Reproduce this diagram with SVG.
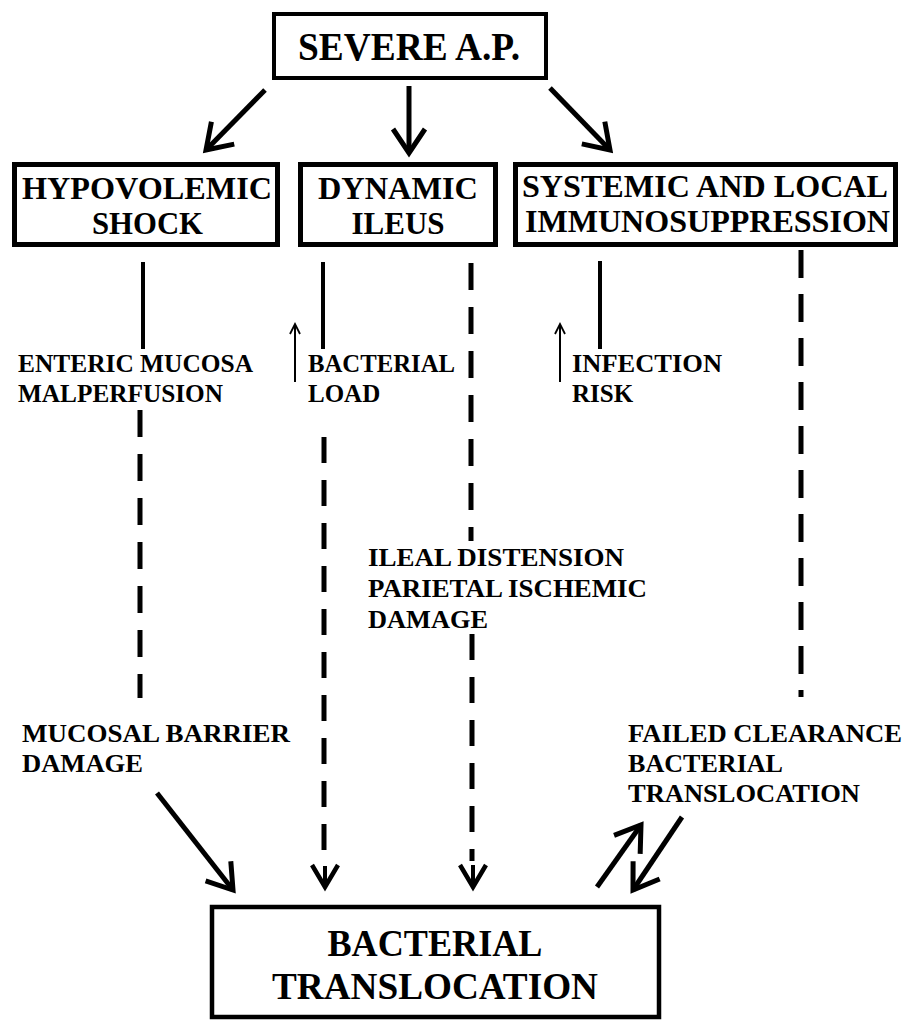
<svg xmlns="http://www.w3.org/2000/svg" width="907" height="1021" viewBox="0 0 907 1021">
<style>
text{font-family:"Liberation Serif","Times New Roman",serif;font-weight:bold;fill:#000}
.big{font-size:40px}
.bot{font-size:38px}
.box{font-size:31px}
.lbl{font-size:25px}
.node{fill:#fff;stroke:#000}
.thick{stroke:#000;stroke-width:5;fill:none}
.solid{stroke:#000;stroke-width:4;fill:none}
.dash{stroke:#000;stroke-width:5;fill:none}
.thin{stroke:#000;stroke-width:2;fill:none}
</style>
<defs>
<marker id="hd" markerUnits="userSpaceOnUse" orient="auto" overflow="visible" refX="0" refY="0" markerWidth="1" markerHeight="1">
<path d="M-24,-16 L0,0 L-24,16" fill="none" stroke="#000" stroke-width="5" stroke-linejoin="miter"/>
</marker>
<marker id="hs" markerUnits="userSpaceOnUse" orient="auto" overflow="visible" refX="0" refY="0" markerWidth="1" markerHeight="1">
<path d="M-22,-13 L0,0 L-22,13" fill="none" stroke="#000" stroke-width="4.5" stroke-linejoin="miter"/>
</marker>
<marker id="ht" markerUnits="userSpaceOnUse" orient="auto" overflow="visible" refX="0" refY="0" markerWidth="1" markerHeight="1">
<path d="M-10,-5 L0,0 L-10,5" fill="none" stroke="#000" stroke-width="1.8"/>
</marker>
</defs>
<rect width="907" height="1021" fill="#fff"/>

<g id="connectors">
<line class="thick" x1="265" y1="90" x2="206" y2="150" marker-end="url(#hd)"/>
<line class="thick" x1="409" y1="86" x2="409" y2="153" marker-end="url(#hd)"/>
<line class="thick" x1="550" y1="88" x2="610" y2="150" marker-end="url(#hd)"/>

<line class="solid" x1="143" y1="262" x2="143" y2="349"/>
<line class="dash" x1="140" y1="410" x2="140" y2="698" stroke-dasharray="27 17"/>

<line class="solid" x1="323" y1="262" x2="323" y2="349"/>
<line class="dash" x1="324" y1="437" x2="324" y2="850" stroke-dasharray="26 17"/>
<line class="solid" x1="325" y1="866" x2="325" y2="887" marker-end="url(#hs)"/>

<line class="dash" x1="471" y1="263" x2="471" y2="541" stroke-dasharray="27 17"/>
<line class="dash" x1="472" y1="634" x2="472" y2="861" stroke-dasharray="26 17"/>
<line class="solid" x1="473" y1="865" x2="473" y2="887" marker-end="url(#hs)"/>

<line class="solid" x1="600" y1="261" x2="600" y2="349"/>
<line class="dash" x1="801" y1="250" x2="801" y2="697" stroke-dasharray="28 16"/>

<line class="thin" x1="295" y1="382" x2="295" y2="324" marker-end="url(#ht)"/>
<line class="thin" x1="560" y1="382" x2="560" y2="324" marker-end="url(#ht)"/>

<line class="thick" x1="157" y1="793" x2="233" y2="890" marker-end="url(#hd)"/>
<line class="thick" x1="597" y1="887" x2="641" y2="825" marker-end="url(#hd)"/>
<line class="thick" x1="682" y1="817" x2="633" y2="890" marker-end="url(#hd)"/>
</g>

<g id="severe">
<rect class="node" x="274" y="14" width="272" height="64" stroke-width="4"/>
<text class="big" x="298" y="60" textLength="222" lengthAdjust="spacingAndGlyphs">SEVERE A.P.</text>
</g>

<g id="hypovolemic">
<rect class="node" x="14.5" y="164.5" width="263" height="80" stroke-width="5"/>
<text class="box" x="22" y="199" textLength="250" lengthAdjust="spacingAndGlyphs">HYPOVOLEMIC</text>
<text class="box" x="92" y="234" textLength="111" lengthAdjust="spacingAndGlyphs">SHOCK</text>
</g>

<g id="ileus">
<rect class="node" x="300.5" y="164.5" width="195" height="80" stroke-width="5"/>
<text class="box" x="398" y="199" text-anchor="middle" textLength="160" lengthAdjust="spacingAndGlyphs">DYNAMIC</text>
<text class="box" x="398" y="234" text-anchor="middle">ILEUS</text>
</g>

<g id="immuno">
<rect class="node" x="515.5" y="164.5" width="380" height="80" stroke-width="5"/>
<text class="box" x="522" y="197" textLength="366" lengthAdjust="spacingAndGlyphs">SYSTEMIC AND LOCAL</text>
<text class="box" x="525" y="232" textLength="365" lengthAdjust="spacingAndGlyphs">IMMUNOSUPPRESSION</text>
</g>

<g id="enteric">
<text class="lbl" x="18" y="372" textLength="235" lengthAdjust="spacingAndGlyphs">ENTERIC MUCOSA</text>
<text class="lbl" x="18" y="402" textLength="205" lengthAdjust="spacingAndGlyphs">MALPERFUSION</text>
</g>

<g id="load">
<text class="lbl" x="308" y="372" textLength="147" lengthAdjust="spacingAndGlyphs">BACTERIAL</text>
<text class="lbl" x="308" y="402">LOAD</text>
</g>

<g id="infection">
<text class="lbl" x="572" y="372" textLength="150" lengthAdjust="spacingAndGlyphs">INFECTION</text>
<text class="lbl" x="572" y="402">RISK</text>
</g>

<g id="ileal">
<text class="lbl" x="368" y="566" textLength="256" lengthAdjust="spacingAndGlyphs">ILEAL DISTENSION</text>
<text class="lbl" x="368" y="597" textLength="279" lengthAdjust="spacingAndGlyphs">PARIETAL ISCHEMIC</text>
<text class="lbl" x="368" y="628" textLength="120" lengthAdjust="spacingAndGlyphs">DAMAGE</text>
</g>

<g id="mucosal">
<text class="lbl" x="22" y="742" textLength="268" lengthAdjust="spacingAndGlyphs">MUCOSAL BARRIER</text>
<text class="lbl" x="22" y="772" textLength="121" lengthAdjust="spacingAndGlyphs">DAMAGE</text>
</g>

<g id="failed">
<text class="lbl" x="628" y="742" textLength="274" lengthAdjust="spacingAndGlyphs">FAILED CLEARANCE</text>
<text class="lbl" x="628" y="772" textLength="155" lengthAdjust="spacingAndGlyphs">BACTERIAL</text>
<text class="lbl" x="628" y="802" textLength="232" lengthAdjust="spacingAndGlyphs">TRANSLOCATION</text>
</g>

<g id="translocation">
<rect class="node" x="212" y="907" width="447" height="110" stroke-width="4.5"/>
<text class="bot" x="435" y="956" text-anchor="middle" textLength="215" lengthAdjust="spacingAndGlyphs">BACTERIAL</text>
<text class="bot" x="435" y="999" text-anchor="middle" textLength="326" lengthAdjust="spacingAndGlyphs">TRANSLOCATION</text>
</g>
</svg>
